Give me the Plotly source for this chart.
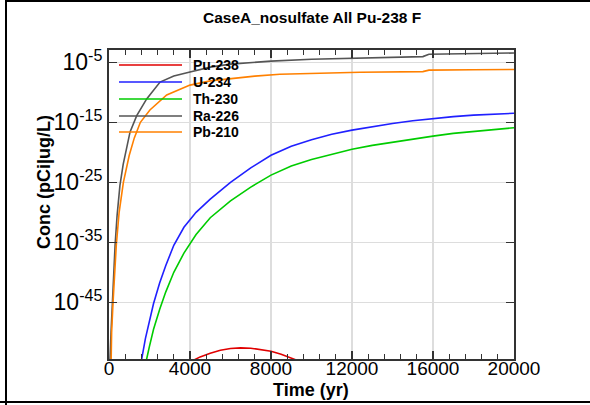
import numpy as np
import plotly.graph_objects as go

# ---- data (log10 of concentration, pCi|ug/L) vs time (yr) ----
pu238_t = [3500, 4000, 4500, 5000, 5500, 6000, 6500, 7000, 7500, 8000, 8500, 9000, 9500, 10000]
pu238_log = [-55.8, -55.0, -54.1, -53.5, -53.0, -52.7, -52.6, -52.65, -52.85, -53.15, -53.65, -54.3, -55.0, -55.6]

u234_t = [1500, 1615, 1800, 2000, 2200, 2500, 2800, 3200, 3700, 4300, 5000, 6000, 7000, 8000, 9000,
          10000, 11000, 12000, 13000, 14000, 15000, 16000, 17000, 18000, 19000, 20000]
u234_log = [-57.5, -54.45, -51.0, -48.0, -45.2, -41.8, -38.9, -35.5, -32.5, -30.0, -27.8, -25.0, -22.6,
            -20.5, -19.0, -17.9, -17.0, -16.3, -15.7, -15.2, -14.75, -14.35, -14.05, -13.8, -13.6, -13.5]

th230_t = [1700, 1860, 2000, 2200, 2500, 2800, 3200, 3700, 4300, 5000, 6000, 7000, 8000, 9000,
           10000, 11000, 12000, 13000, 14000, 15000, 16000, 17000, 18000, 19000, 20000]
th230_log = [-58.0, -54.45, -52.3, -49.5, -46.2, -43.3, -40.0, -36.8, -33.7, -30.9, -28.1, -25.8, -23.8,
             -22.3, -21.2, -20.3, -19.5, -18.85, -18.3, -17.75, -17.3, -16.85, -16.5, -16.2, -15.9]

ra226_t = [0, 50, 100, 165, 230, 300, 400, 540, 700, 850, 1040, 1370, 1860, 2520, 3200, 4000, 5000,
           6000, 7000, 8000, 10000, 12400, 15500, 15800, 18000, 20000]
ra226_log = [-75, -54.45, -50, -45, -40, -35.5, -30.5, -25.5, -22.0, -19.5, -16.6, -13.9, -11.1, -8.3,
             -7.3, -6.6, -5.8, -5.3, -5.0, -4.8, -4.5, -4.25, -4.05, -3.65, -3.55, -3.45]

pb210_t = [0, 80, 130, 200, 280, 360, 500, 710, 1000, 1250, 1550, 2020, 2850, 4000, 5000, 6140,
           7200, 8440, 10000, 12400, 15500, 15800, 18000, 20000]
pb210_log = [-75, -54.45, -50, -45, -40, -35.5, -30, -25, -20.5, -17.6, -15.0, -12.95, -10.45, -8.8,
             -8.1, -7.7, -7.3, -7.0, -6.85, -6.67, -6.55, -6.3, -6.25, -6.2]

names = ["Pu-238", "U-234", "Th-230", "Ra-226", "Pb-210"]
colors = ["#e00000", "#2020ff", "#00cc00", "#555555", "#ff8000"]
series = [(pu238_t, pu238_log), (u234_t, u234_log), (th230_t, th230_log),
          (ra226_t, ra226_log), (pb210_t, pb210_log)]

x_ticks = [0, 4000, 8000, 12000, 16000, 20000]
y_exps = [-5, -15, -25, -35, -45]

W, H = 590, 405
L, R, T, B = 109, 514, 50, 359
FONT = "Liberation Sans, Arial, sans-serif"

fig = go.Figure()
for name, col, (t, lv) in zip(names, colors, series):
    fig.add_trace(go.Scatter(x=t, y=10 ** np.array(lv, dtype=float), mode="lines",
                             name=name, line=dict(color=col, width=1.6),
                             showlegend=False, hoverinfo="skip"))

pw, ph = R - L, B - T
def px(x):
    return (x - L) / pw
def py(y):
    return (B - y) / ph

shapes = []
annotations = []
# legend (drawn inside the plot, top-left)
leg_y = [65, 82, 99, 116, 132]
for name, col, yy in zip(names, colors, leg_y):
    shapes.append(dict(type="line", xref="paper", yref="paper", x0=px(119), x1=px(182),
                       y0=py(yy), y1=py(yy), line=dict(color=col, width=1.6)))
    annotations.append(dict(xref="paper", yref="paper", x=px(191), y=py(yy), text="<b>%s</b>" % name,
                            showarrow=False, xanchor="left", yanchor="middle",
                            font=dict(family=FONT, size=14, color="black")))
# page frame lines
shapes.append(dict(type="line", xref="paper", yref="paper", x0=px(6), x1=px(6), y0=py(0), y1=py(405),
                   line=dict(color="black", width=2)))
shapes.append(dict(type="line", xref="paper", yref="paper", x0=px(6), x1=px(590), y0=py(1), y1=py(1),
                   line=dict(color="black", width=2)))
shapes.append(dict(type="line", xref="paper", yref="paper", x0=px(0), x1=px(590), y0=py(402), y1=py(402),
                   line=dict(color="black", width=2)))

annotations.append(dict(xref="paper", yref="paper", x=px(312), y=py(18), text="<b>CaseA_nosulfate All Pu-238 F</b>",
                        showarrow=False, xanchor="center", yanchor="middle",
                        font=dict(family=FONT, size=15.5, color="black")))
annotations.append(dict(xref="paper", yref="paper", x=px(311), y=py(390), text="<b>Time (yr)</b>",
                        showarrow=False, xanchor="center", yanchor="middle",
                        font=dict(family=FONT, size=18, color="black")))
annotations.append(dict(xref="paper", yref="paper", x=px(44), y=py(182), text="<b>Conc (pCi|ug/L)</b>",
                        showarrow=False, xanchor="center", yanchor="middle", textangle=-90,
                        font=dict(family=FONT, size=18, color="black")))

fig.update_layout(
    width=W, height=H,
    margin=dict(l=L, r=W - R, t=T, b=H - B, pad=0),
    paper_bgcolor="white", plot_bgcolor="white",
    shapes=shapes, annotations=annotations,
    font=dict(family=FONT, color="black"),
    hovermode=False,
)
fig.update_xaxes(
    range=[0, 20000], tickvals=x_ticks, ticktext=[str(v) for v in x_ticks],
    ticks="inside", ticklen=8, tickwidth=1.5, tickcolor="#333",
    showline=True, linecolor="#333", linewidth=2, mirror="allticks",
    showgrid=True, gridcolor="#dddddd", gridwidth=1.5, zeroline=False,
    tickfont=dict(size=19, family=FONT, color="black"), ticklabelstandoff=-9,
    minor=dict(dtick=800, ticks="inside", ticklen=5, tickwidth=1.2, tickcolor="#333", showgrid=False),
)
fig.update_yaxes(
    type="log", range=[-54.45, -2.95],
    tickvals=[10.0 ** e for e in y_exps], ticktext=["10<sup>%d</sup>" % e for e in y_exps],
    ticks="inside", ticklen=8, tickwidth=1.5, tickcolor="#333",
    showline=True, linecolor="#333", linewidth=2, mirror="allticks",
    showgrid=True, gridcolor="#dddddd", gridwidth=1.5, zeroline=False,
    tickfont=dict(size=23, family=FONT, color="black"),
)
fig.write_html("out.html", config={"displayModeBar": False, "staticPlot": True},
               post_script="document.body.style.margin='0px';document.body.style.overflow='hidden';")
